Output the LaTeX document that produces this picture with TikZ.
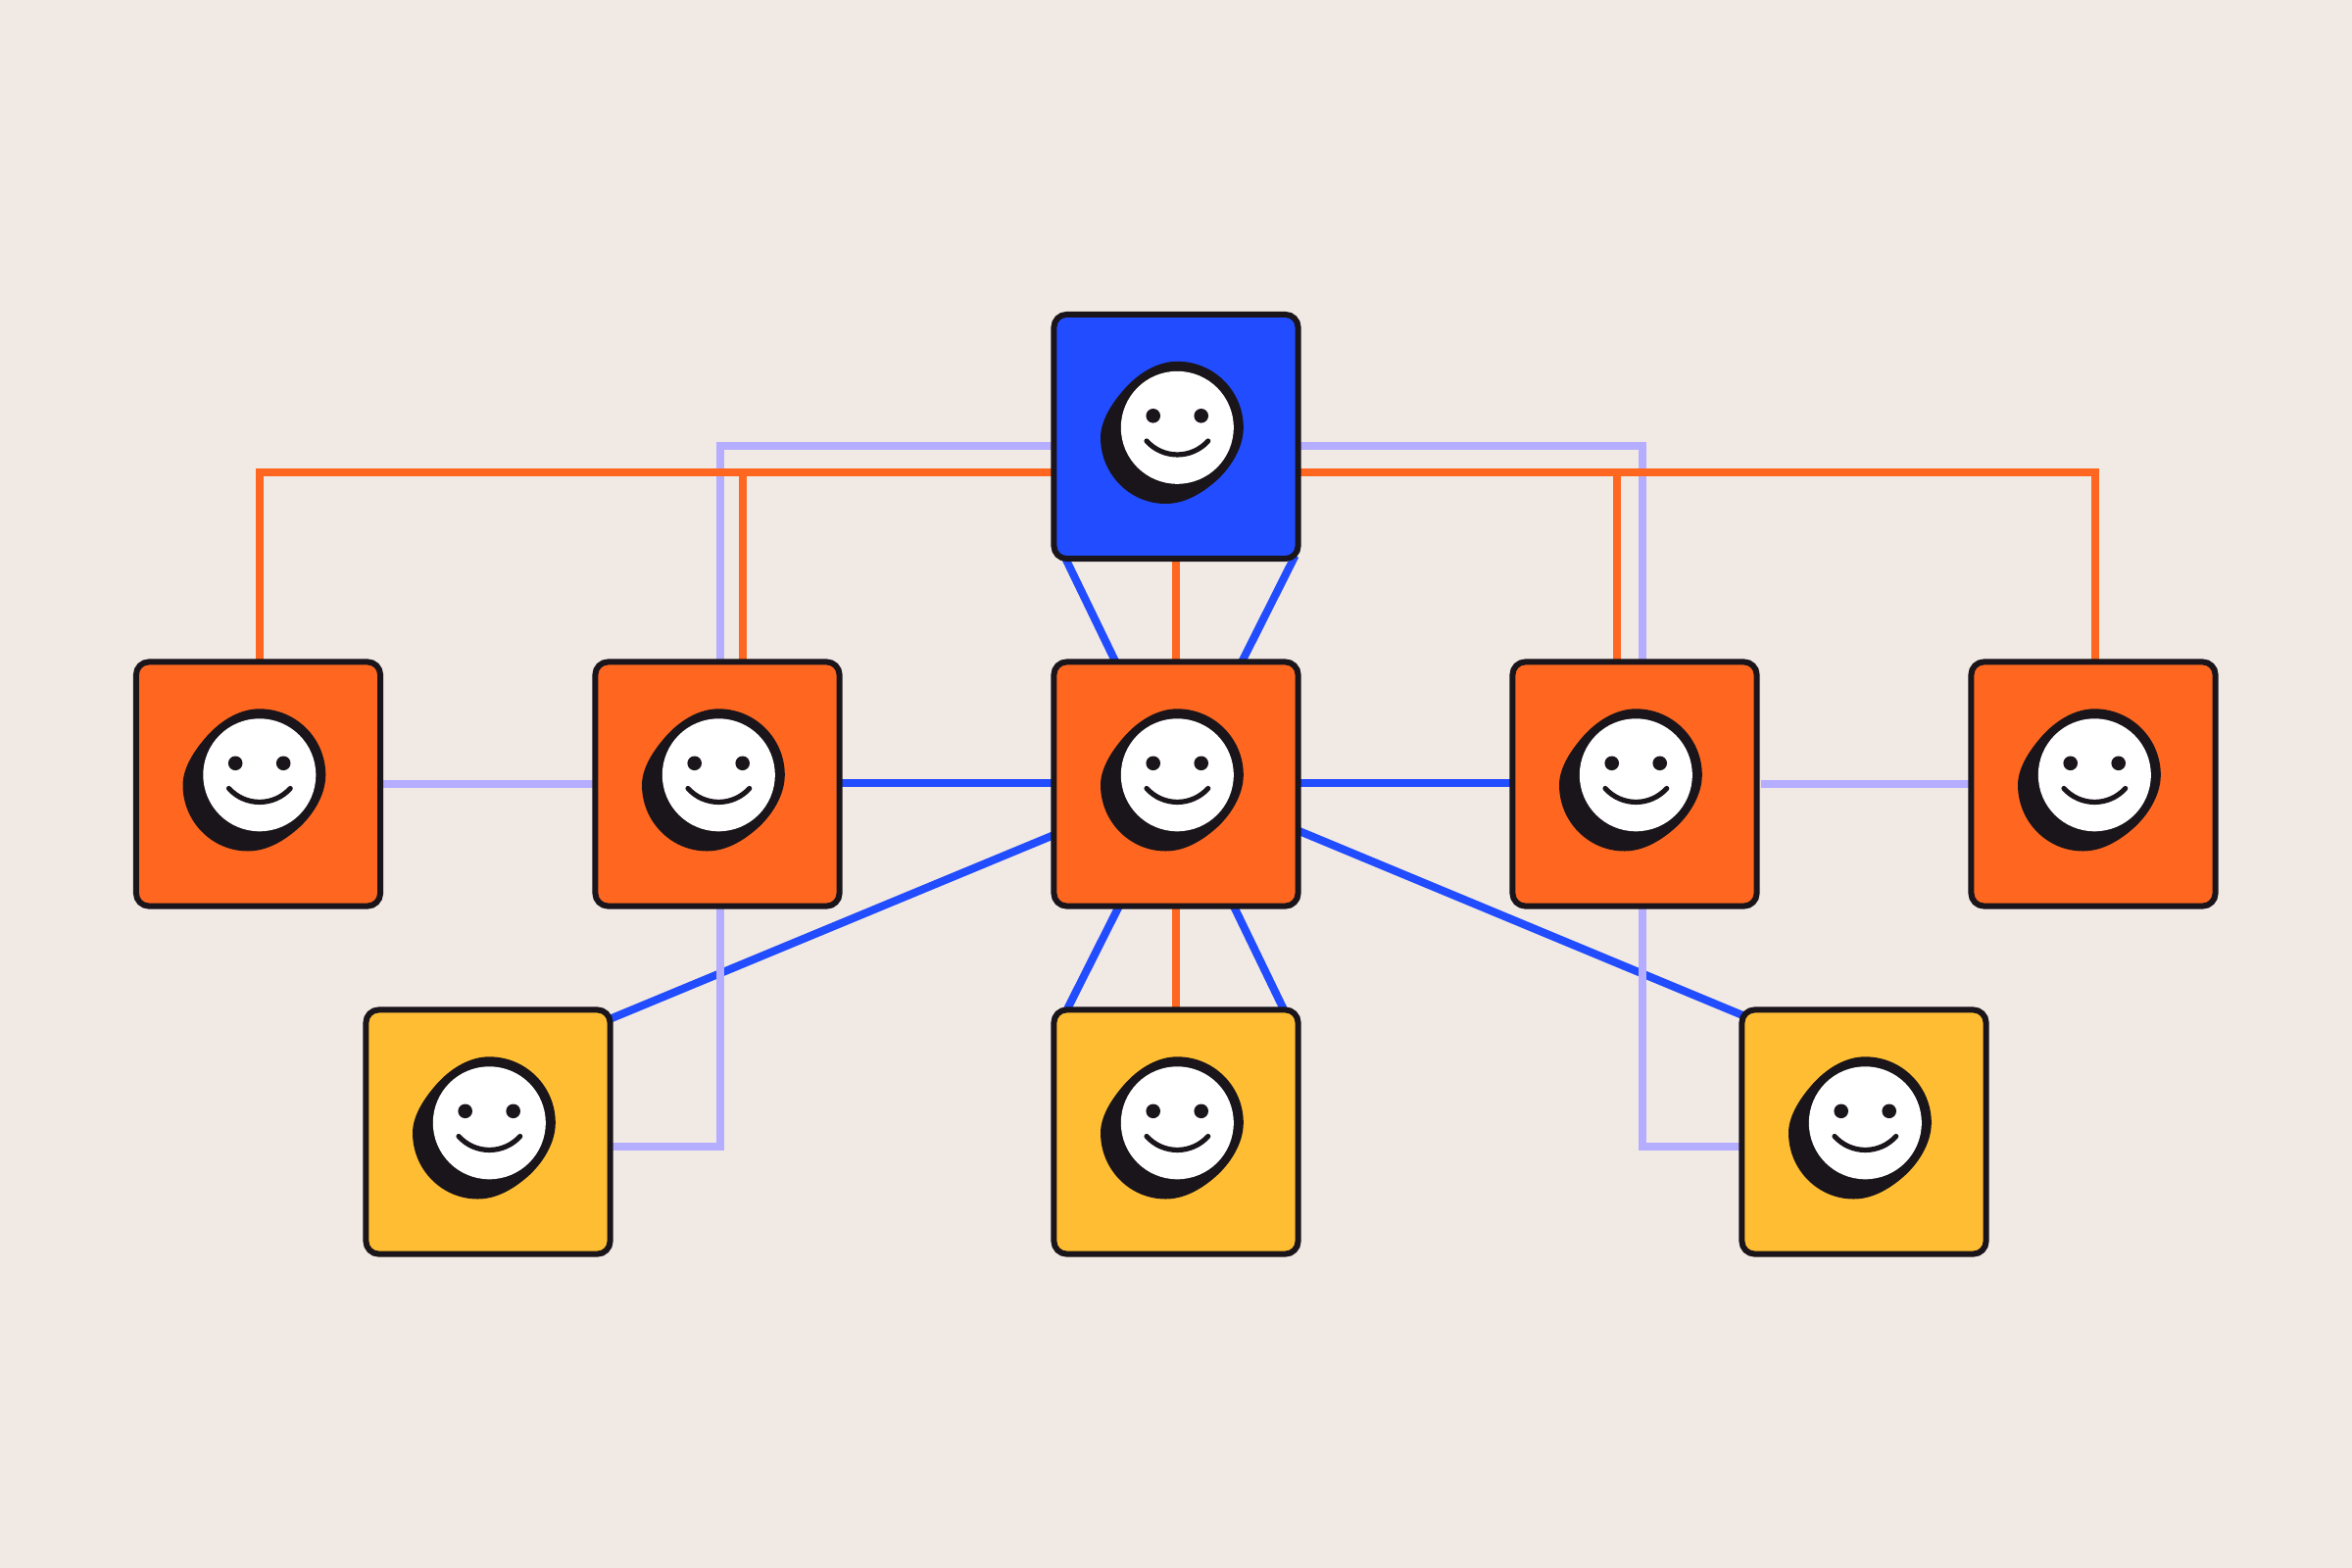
\documentclass[tikz,border=0pt]{standalone}
\usetikzlibrary{calc,backgrounds}
\definecolor{paper}{HTML}{F1E9E3}
\definecolor{ink}{HTML}{1A151A}
\definecolor{bluecol}{HTML}{224CFF}
\definecolor{orangecol}{HTML}{FF6720}
\definecolor{yellowcol}{HTML}{FFBD33}
\definecolor{lavcol}{HTML}{B5ADFF}
\tikzset{
  x=0.01cm,y=-0.01cm,
  box/.style={rectangle,draw=ink,line width=0.06cm,minimum size=2.49cm,inner sep=0pt,outer sep=0pt,rounded corners=0.13cm},
  blueline/.style={draw=bluecol,line width=0.08cm},
  lavline/.style={draw=lavcol,line width=0.08cm,line join=miter},
  orangeline/.style={draw=orangecol,line width=0.08cm,line join=miter},
  smiley/.pic={
    \fill[ink] (1.3,-76.7) .. controls (38.6,-76.7) and (68.8,-46.5) .. (68.8,-9.2)
      .. controls (68.8,12) and (55,33) .. (40,46)
      .. controls (25,59) and (8,68.5) .. (-10.5,68.5)
      .. controls (-47.5,68.5) and (-77,38) .. (-77,1)
      .. controls (-77,-18) and (-63,-37.4) .. (-50,-51.5)
      .. controls (-35,-67) and (-17,-76.7) .. (1.3,-76.7) -- cycle;
    \fill[white] (1.3,-9.2) circle[radius=57.5];
    \fill[ink] (-23.3,-21.2) circle[radius=7.3];
    \fill[ink] (25.7,-21.2) circle[radius=7.3];
    \draw[ink,line width=0.052cm,line cap=round] (-30,4.5) .. controls (-13.3,23.1) and (16,23.1) .. (32.7,4.5);
  }
}
\begin{document}
\begin{tikzpicture}
\useasboundingbox (0,0) rectangle (2400,1600);
% nodes
\node[box,fill=bluecol]   (top) at (1200,445.5) {};
\node[box,fill=orangecol] (m1) at (263.5,800) {};
\node[box,fill=orangecol] (m2) at (732,800) {};
\node[box,fill=orangecol] (m3) at (1200,800) {};
\node[box,fill=orangecol] (m4) at (1668,800) {};
\node[box,fill=orangecol] (m5) at (2136,800) {};
\node[box,fill=yellowcol] (b1) at (498,1155) {};
\node[box,fill=yellowcol] (b2) at (1200,1155) {};
\node[box,fill=yellowcol] (b3) at (1902,1155) {};
\foreach \n in {top,m1,m2,m3,m4,m5,b1,b2,b3} \pic at (\n) {smiley};
% route corners
\coordinate (lavTL) at (735,455);
\coordinate (lavBL) at (735,1170);
\coordinate (lavTR) at (1676,455);
\coordinate (lavBR) at (1676,1170);
\coordinate (orTL) at (265,482);
\coordinate (orTR) at (2138,482);
\coordinate (orA) at (758,482);
\coordinate (orB) at (1650,482);
\begin{scope}[on background layer]
\fill[paper] (0,0) rectangle (2400,1600);
% blue
\draw[blueline] ($(m2.east)+(0,-1)$) -- ($(m3.west)+(0,-1)$);
\draw[blueline] ($(m3.east)+(0,-1)$) -- ($(m4.west)+(0,-1)$);
\draw[blueline] ($(top.south west)+(10,-4)$) -- ($(b2.north east)+(-13.5,2)$);
\draw[blueline] ($(top.south east)+(-3,-3)$) -- ($(b2.north west)+(12.5,1.5)$);
\draw[blueline] ($(b1.north east)+(-3,10.5)$) -- ($(m3.west)+(3,50.8)$);
\draw[blueline] ($(b3.north west)+(3,6.5)$) -- ($(m3.east)+(-3,46.3)$);
% lavender
\draw[lavline] (m1.east) -- (m2.west);
\draw[lavline] ($(m4.east)+(4,0)$) -- (m5.west);
\draw[lavline] ($(top.west)+(0,9.5)$) -- (lavTL) -- (lavBL) -- ($(b1.east)+(1,15)$);
\draw[lavline] ($(top.east)+(0,9.5)$) -- (lavTR) -- (lavBR) -- ($(b3.west)+(-1,15)$);
% orange
\draw[orangeline] (m1.north -| orTL) -- (orTL) -- (top.west |- orTL);
\draw[orangeline] (m2.north -| orA) -- (orA);
\draw[orangeline] (top.east |- orTR) -- (orTR) -- (m5.north -| orTR);
\draw[orangeline] (m4.north -| orB) -- (orB);
\draw[orangeline] (top.south) -- (m3.north);
\draw[orangeline] (m3.south) -- (b2.north);
\end{scope}
\end{tikzpicture}
\end{document}
